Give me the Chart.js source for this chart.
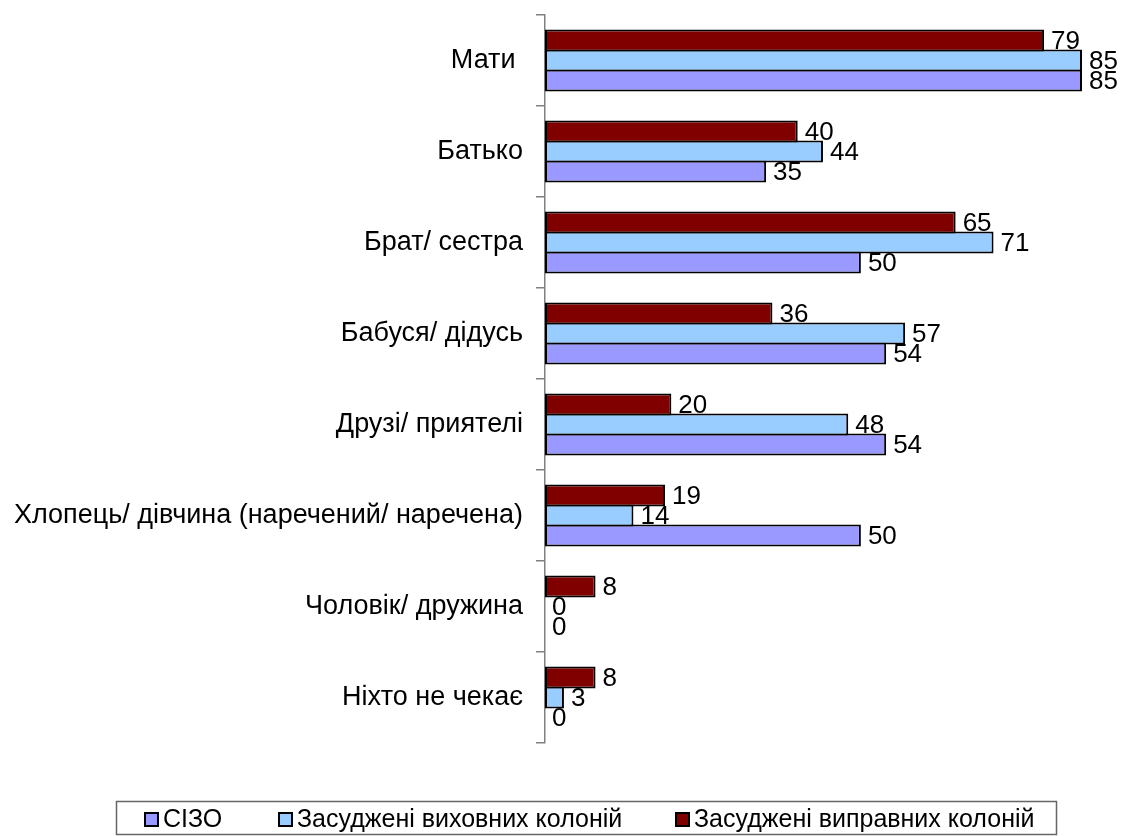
<!DOCTYPE html>
<html>
<head>
<meta charset="utf-8">
<script src="https://cdn.jsdelivr.net/npm/chart.js@4.4.1/dist/chart.umd.min.js"></script>
<style>
  html, body { margin: 0; padding: 0; background: #fff; }
  #wrap { width: 1122px; height: 836px; position: relative; }
</style>
</head>
<body>
<div id="wrap"><canvas id="chart"></canvas></div>
<script>
const categories = [
  "Мати ",
  "Батько",
  "Брат/ сестра",
  "Бабуся/ дідусь",
  "Друзі/ приятелі",
  "Хлопець/ дівчина (наречений/ наречена)",
  "Чоловік/ дружина",
  "Ніхто не чекає"
];
const sizo = [85, 35, 50, 54, 54, 50, 0, 0];
const vykhovni = [85, 44, 71, 57, 48, 14, 0, 3];
const vypravni = [79, 40, 65, 36, 20, 19, 8, 8];

const FONT = "'Liberation Sans', Arial, sans-serif";

// value labels right of each bar
const valueLabels = {
  id: "valueLabels",
  afterDatasetsDraw(chart) {
    const ctx = chart.ctx;
    ctx.save();
    ctx.font = "26px " + FONT;
    ctx.fillStyle = "#000";
    ctx.textAlign = "left";
    ctx.textBaseline = "middle";
    chart.data.datasets.forEach((ds, i) => {
      chart.getDatasetMeta(i).data.forEach((bar, j) => {
        ctx.fillText(String(ds.data[j]), bar.x + 7, bar.y + 1);
      });
    });
    ctx.restore();
  }
};

// boxed legend at the bottom, СІЗО first
const boxLegend = {
  id: "boxLegend",
  afterDraw(chart) {
    const ctx = chart.ctx;
    ctx.save();
    ctx.strokeStyle = "#666";
    ctx.lineWidth = 1.5;
    ctx.strokeRect(116.5, 801.5, 940, 33);
    const items = chart.data.datasets.slice().reverse();
    const boxX = [144, 278, 675];
    ctx.font = "25px " + FONT;
    ctx.textBaseline = "middle";
    ctx.textAlign = "left";
    items.forEach((ds, k) => {
      ctx.fillStyle = ds.backgroundColor;
      ctx.fillRect(boxX[k], 812, 15, 15);
      ctx.strokeStyle = "#000";
      ctx.lineWidth = 2;
      ctx.strokeRect(boxX[k] + 1, 813, 13, 13);
      ctx.fillStyle = "#000";
      ctx.fillText(ds.label, boxX[k] + 19, 820);
    });
    ctx.restore();
  }
};

const barStyle = {borderColor: "#000", borderWidth: 2, borderSkipped: false,
  barPercentage: 1.1, categoryPercentage: 0.66};

new Chart(document.getElementById("chart"), {
  type: "bar",
  data: {
    labels: categories,
    datasets: [
      {label: "Засуджені виправних колоній", data: vypravni, backgroundColor: "#800000", ...barStyle},
      {label: "Засуджені виховних колоній", data: vykhovni, backgroundColor: "#99CCFF", ...barStyle},
      {label: "СІЗО", data: sizo, backgroundColor: "#9999FF", ...barStyle}
    ]
  },
  options: {
    indexAxis: "y",
    responsive: true,
    maintainAspectRatio: false,
    animation: false,
    layout: {padding: {left: 0, right: 40, top: 15, bottom: 93}},
    plugins: {legend: {display: false}, tooltip: {enabled: false}},
    scales: {
      x: {display: false, min: 0, max: 85},
      y: {
        afterFit: (scale) => {
          scale.width = 545;
          scale.paddingTop = 0;
          scale.paddingBottom = 0;
        },
        border: {display: true, color: "#808080", width: 1.5},
        grid: {offset: true, drawOnChartArea: false, tickLength: 9, color: "#808080", lineWidth: 1.5},
        ticks: {color: "#000", padding: 13, font: {family: FONT, size: 27}}
      }
    }
  },
  plugins: [valueLabels, boxLegend]
});
</script>
</body>
</html>
